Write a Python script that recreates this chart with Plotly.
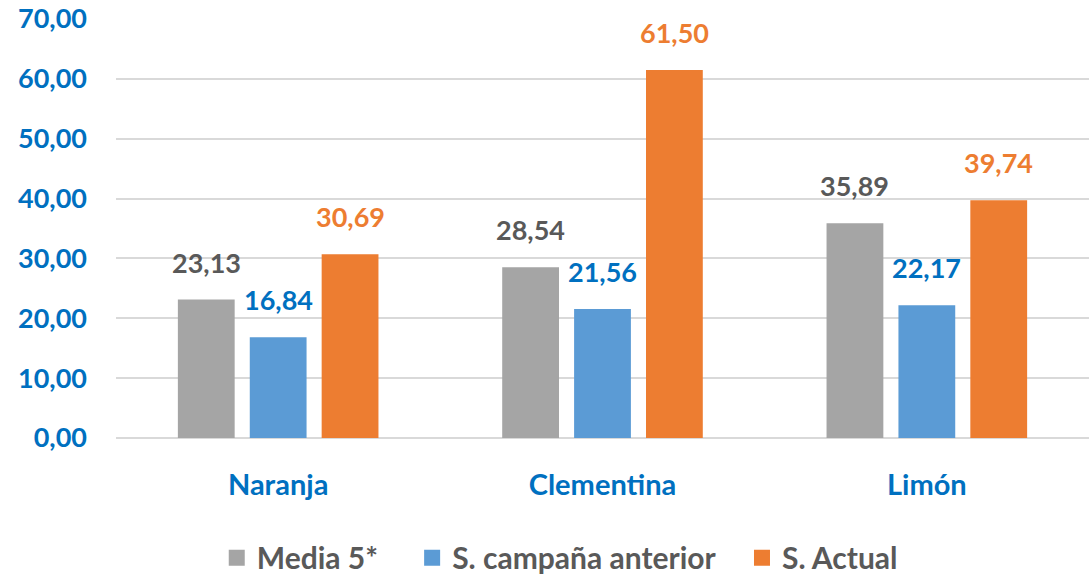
import plotly.graph_objects as go

categories = ["Naranja", "Clementina", "Limón"]
series_names = ["Media 5*", "S. campaña anterior", "S. Actual"]
media5 = [23.13, 28.54, 35.89]
campana_anterior = [16.84, 21.56, 22.17]
actual = [30.69, 61.50, 39.74]
y_ticks = [0, 10, 20, 30, 40, 50, 60, 70]

values = [media5, campana_anterior, actual]
bar_colors = ["#A5A5A5", "#5B9BD5", "#ED7D31"]
label_colors = ["#595959", "#0070C0", "#ED7D31"]
legend_pad = ["\u00a0" * 4, "\u00a0" * 3, ""]
FONT = "Lato"

fig = go.Figure()
for name, vals, col in zip(series_names, values, bar_colors):
    fig.add_trace(go.Bar(
        x=categories, y=vals, name=name,
        marker=dict(color=col, line=dict(width=0)),
        offsetgroup=name, showlegend=False,
    ))
# legend entries with larger square swatches
for name, col, pad in zip(series_names, bar_colors, legend_pad):
    fig.add_trace(go.Scatter(
        x=[None], y=[None], mode="markers", name=name + pad,
        marker=dict(symbol="square", size=17, color=col),
        showlegend=True,
    ))

# data labels via annotations, positioned by axes
n = len(series_names)
slot = (1 - 0.335) / n
for i, (vals, lc) in enumerate(zip(values, label_colors)):
    off = (i - (n - 1) / 2) * slot
    for j, v in enumerate(vals):
        fig.add_annotation(
            x=j + off, y=v, xref="x", yref="y",
            text=f"{v:.2f}".replace(".", ","),
            showarrow=False, yanchor="bottom", yshift=19,
            font=dict(family=FONT, size=27, color=lc, weight="bold"),
        )

fig.update_layout(
    width=1089, height=578,
    margin=dict(l=116, r=0, t=19, b=140, autoexpand=False),
    paper_bgcolor="white", plot_bgcolor="white",
    barmode="group", bargap=0.335, bargroupgap=0.21,
    separators=",.",
    showlegend=True,
    legend=dict(
        orientation="h", xref="container", yref="container",
        x=0.514, xanchor="center", y=0.035, yanchor="middle",
        font=dict(family=FONT, size=30, color="#595959", weight="bold"),
        itemwidth=30, traceorder="normal", itemsizing="trace",
    ),
    xaxis=dict(
        type="category",
        tickfont=dict(family=FONT, size=29, color="#0070C0", weight="bold"),
        showgrid=False, showline=False, ticks="", ticklabelstandoff=27,
        automargin=False,
    ),
    yaxis=dict(
        range=[0, 70], tickvals=y_ticks, tickformat=".2f",
        tickfont=dict(family=FONT, size=27, color="#0070C0", weight="bold"),
        showgrid=True, gridcolor="#D9D9D9", gridwidth=2,
        zeroline=True, zerolinecolor="#D9D9D9", zerolinewidth=2,
        showline=False, ticks="", ticklabelstandoff=28, automargin=False,
    ),
)

fig.write_html("out.html", config={"displayModeBar": False},
               post_script="document.body.style.margin='0';")
